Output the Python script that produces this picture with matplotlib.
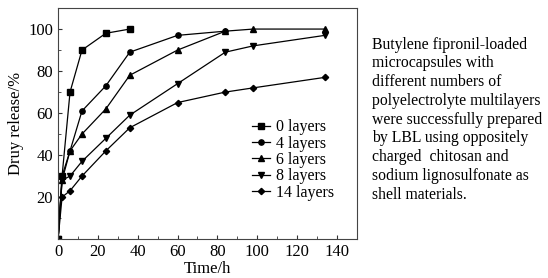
import matplotlib.pyplot as plt
from matplotlib.ticker import MultipleLocator

plt.rcParams['font.family'] = ['Liberation Serif', 'DejaVu Serif']

# tiempos de muestreo (h)
tiempo_0 = [0, 2, 6, 12, 24, 36]
tiempo_4 = [0, 2, 6, 12, 24, 36, 60, 84]
tiempo_largo = [0, 2, 6, 12, 24, 36, 60, 84, 98, 134]

# liberacion acumulada (%)
capas_0 = [0, 30, 70, 90, 98, 100]
capas_4 = [0, 30, 42, 61, 73, 89, 97, 99]
capas_6 = [0, 28, 42, 50, 62, 78, 90, 99, 100, 100]
capas_8 = [0, 28, 30, 37, 48, 59, 74, 89, 92, 97]
capas_14 = [0, 20, 23, 30, 42, 53, 65, 70, 72, 77]

etiquetas = ['0 layers', '4 layers', '6 layers', '8 layers', '14 layers']
marcadores = ['s', 'o', '^', 'v', 'D']

texto = ("Butylene fipronil-loaded\nmicrocapsules with\ndifferent numbers of\n"
         "polyelectrolyte multilayers\nwere successfully prepared\n"
         "by LBL using oppositely\ncharged  chitosan and\n"
         "sodium lignosulfonate as\nshell materials.")

fig = plt.figure(figsize=(5.48, 2.78), dpi=100)
ax = fig.add_axes([0.106, 0.140, 0.545, 0.831])

series = [(tiempo_0, capas_0), (tiempo_4, capas_4), (tiempo_largo, capas_6),
          (tiempo_largo, capas_8), (tiempo_largo, capas_14)]
for (xs, ys), etiqueta, m in zip(series, etiquetas, marcadores):
    ms = 3.2 if m == 'D' else 3.8
    ax.plot(xs, ys, color='black', lw=0.9, marker=m, ms=ms, label=etiqueta)

ax.set_xlim(0, 150)
ax.set_ylim(0, 110)
ax.set_xticks(range(0, 141, 20))
ax.set_yticks(range(20, 101, 20))
ax.xaxis.set_minor_locator(MultipleLocator(10))
ax.yaxis.set_minor_locator(MultipleLocator(10))
ax.tick_params(which='both', direction='in', labelsize=12, color='#333333')
ax.tick_params(which='major', length=3)
ax.tick_params(which='minor', length=2)
for s in ax.spines.values():
    s.set_linewidth(0.8)
    s.set_color('#444444')

ax.set_xlabel('Time/h', fontsize=12, labelpad=1)
ax.set_ylabel('Druy release/%', fontsize=12, labelpad=3)

ax.legend(loc='center left', bbox_to_anchor=(0.623, 0.342), frameon=False,
          fontsize=11.5, handlelength=1.1, handletextpad=0.4, labelspacing=0.02,
          borderpad=0)

fig.text(0.679, 0.868, texto, fontsize=11.3, va='top', ha='left', linespacing=1.23)

fig.savefig('out.png', dpi=100)
